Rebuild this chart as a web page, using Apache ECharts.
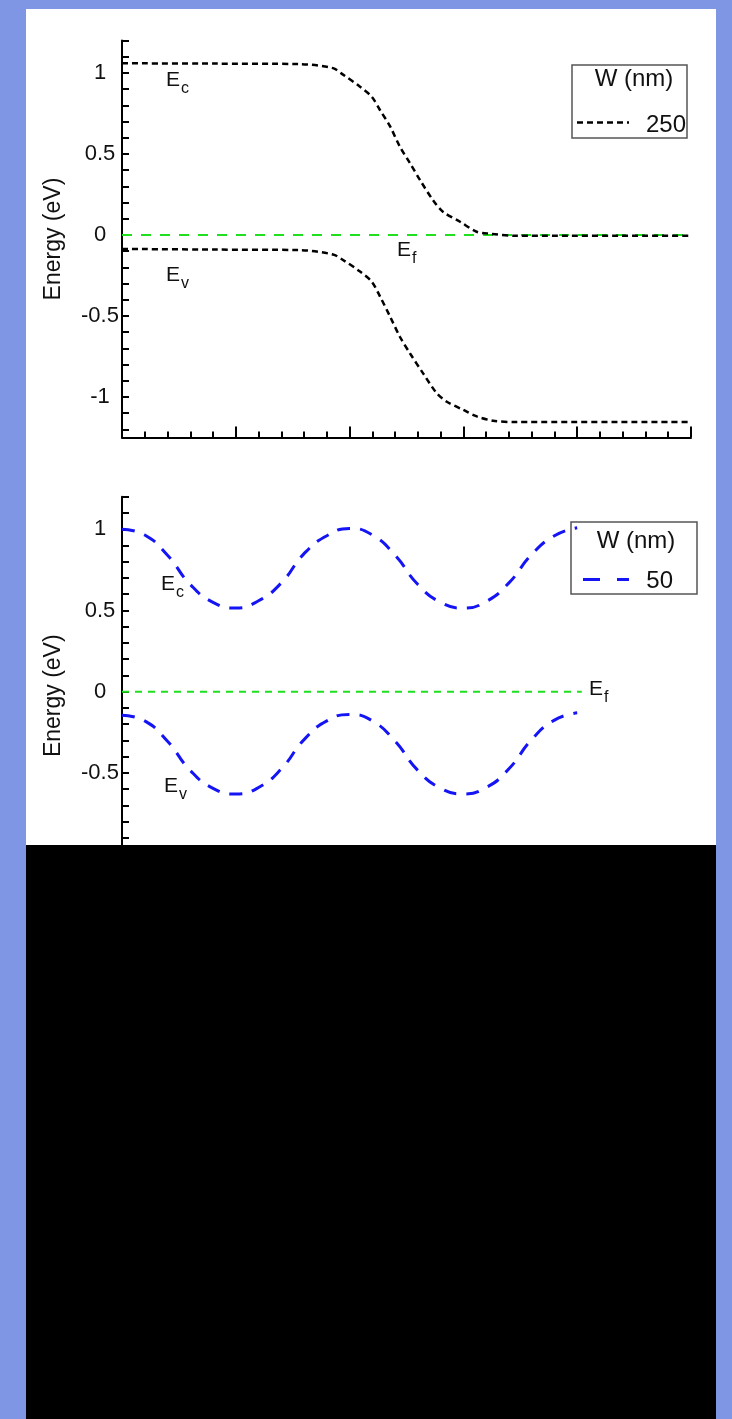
<!DOCTYPE html>
<html>
<head>
<meta charset="utf-8">
<title>Band diagram</title>
<script src="https://cdn.jsdelivr.net/npm/echarts@6/dist/echarts.min.js"></script>
<style>
  html, body { margin: 0; padding: 0; background: #7e96e3; }
  #chart { width: 732px; height: 1419px; }
</style>
</head>
<body>
<div id="chart"></div>
<script>
// ---- Upper panel: W = 250 nm ----
const xTop  = [0, 40, 78, 92.7, 97.1, 104.6, 109.7, 113.4, 117.8, 122.1, 126.5, 130.9, 136.6, 141, 148.5, 155.8, 160.2, 173.4, 250];
const ecTop = [1.06, 1.058, 1.055, 1.03, 0.99, 0.915, 0.854, 0.77, 0.67, 0.545, 0.444, 0.34, 0.216, 0.144, 0.082, 0.02, 0.01, -0.005, -0.005];
const xTopV = [0, 40, 78, 92.7, 97.1, 104.6, 109.7, 113.4, 117.8, 122.1, 126.5, 132.3, 138.3, 142.7, 150, 155.9, 163, 173.4, 250];
const evTop = [-0.086, -0.09, -0.093, -0.12, -0.154, -0.226, -0.288, -0.38, -0.504, -0.628, -0.73, -0.854, -0.977, -1.029, -1.08, -1.12, -1.146, -1.155, -1.155];
const efTopX = [0, 250];
const efTop  = [0, 0];

// ---- Lower panel: W = 50 nm ----
const xBottom  = [0, 10, 20, 30, 40, 50, 60, 70, 80, 90, 100, 110, 120, 130, 140, 150, 160, 170, 180, 190, 200];
const ecBottom = [1.0, 0.965, 0.84, 0.66, 0.55, 0.515, 0.56, 0.67, 0.85, 0.96, 1.005, 0.965, 0.84, 0.66, 0.55, 0.515, 0.555, 0.67, 0.845, 0.96, 1.01];
const evBottom = [-0.145, -0.18, -0.305, -0.485, -0.595, -0.63, -0.59, -0.475, -0.295, -0.18, -0.14, -0.18, -0.305, -0.485, -0.595, -0.63, -0.59, -0.475, -0.295, -0.175, -0.13];
const efBottomX = [0, 202];
const efBottom  = [0, 0];

// ---- Axis ticks and legend text ----
const yTickValues  = [-1.2, -1.1, -1.0, -0.9, -0.8, -0.7, -0.6, -0.5, -0.4, -0.3, -0.2, -0.1, 0, 0.1, 0.2, 0.3, 0.4, 0.5, 0.6, 0.7, 0.8, 0.9, 1.0, 1.1, 1.2];
const yLabelValues = [-1, -0.5, 0, 0.5, 1];
const legendTitle = 'W (nm)';
const legendTop = '250';
const legendBottom = '50';

const FONT = '"Liberation Sans", Arial, sans-serif';
const pair = (xs, ys) => xs.map((x, i) => [x, ys[i]]);

function xAxisCfg(gridIndex) {
  return {
    gridIndex, type: 'value', min: 0, max: 250, interval: 50,
    axisLine: { onZero: false, lineStyle: { color: '#000', width: 2 } },
    axisTick: { inside: true, length: 11, lineStyle: { color: '#000', width: 2 } },
    minorTick: { show: true, splitNumber: 5, length: 6, lineStyle: { color: '#000', width: 2 } },
    axisLabel: { show: false },
    splitLine: { show: false }
  };
}
function yAxisCfg(gridIndex) {
  return {
    gridIndex, type: 'value', min: -1.25, max: 1.2,
    name: 'Energy (eV)', nameLocation: 'middle', nameGap: 57,
    nameTextStyle: { fontFamily: FONT, fontSize: 23, color: '#111' },
    axisLine: { lineStyle: { color: '#000', width: 2 } },
    axisTick: { inside: true, length: 7, customValues: yTickValues, lineStyle: { color: '#000', width: 2 } },
    axisLabel: {
      customValues: yLabelValues, margin: 22, align: 'center',
      fontFamily: FONT, fontSize: 22, color: '#111',
      formatter: v => String(v)
    },
    splitLine: { show: false }
  };
}

function lineSeries(idx, data, color, width, dash, smooth) {
  return {
    type: 'line', xAxisIndex: idx, yAxisIndex: idx, data, symbol: 'none',
    smooth: smooth, silent: true, animation: false,
    lineStyle: { color, width, type: dash }
  };
}

function txt(x, y, s, size, align) {
  return {
    type: 'text', z: 50,
    style: {
      x, y, text: s, font: size + 'px ' + FONT, fill: '#111',
      align: align || 'left', verticalAlign: 'middle',
      textAlign: align || 'left', textVerticalAlign: 'middle'
    }
  };
}
// band label "E" with a subscript letter
function sub(x, y, main, s) {
  return [txt(x, y, main, 21), txt(x + 15, y + 9, s, 16)];
}

const chart = echarts.init(document.getElementById('chart'), null, { renderer: 'canvas' });
chart.setOption({
  backgroundColor: '#7e96e3',
  animation: false,
  grid: [
    { left: 122, top: 40.6, width: 569, height: 396.9 },
    { left: 122, top: 496.8, width: 569, height: 397.9 }
  ],
  xAxis: [xAxisCfg(0), xAxisCfg(1)],
  yAxis: [yAxisCfg(0), yAxisCfg(1)],
  series: [
    lineSeries(0, pair(efTopX, efTop), '#1fe01f', 2, [10, 9], false),
    lineSeries(0, pair(xTop, ecTop), '#000', 2.5, [6, 4], 0.3),
    lineSeries(0, pair(xTopV, evTop), '#000', 2.5, [6, 4], 0.3),
    lineSeries(1, pair(efBottomX, efBottom), '#1fe01f', 2, [7, 6], false),
    lineSeries(1, pair(xBottom, ecBottom), '#1414f5', 3, [13, 10], true),
    lineSeries(1, pair(xBottom, evBottom), '#1414f5', 3, [13, 10], true)
  ],
  graphic: [
    // white panel and the black block over its lower part
    { type: 'rect', z: -100, shape: { x: 26, y: 9, width: 690, height: 836 }, style: { fill: '#fff' } },
    { type: 'rect', z: 100, shape: { x: 26, y: 845, width: 690, height: 574 }, style: { fill: '#000' } },

    // band labels, upper panel
    ...sub(166, 80, 'E', 'c'),
    ...sub(166, 275, 'E', 'v'),
    ...sub(397, 250, 'E', 'f'),
    // band labels, lower panel
    ...sub(161, 584, 'E', 'c'),
    ...sub(164, 786, 'E', 'v'),
    ...sub(589, 689, 'E', 'f'),

    // legend, upper panel
    { type: 'rect', z: 40, shape: { x: 572, y: 65, width: 115, height: 73 }, style: { fill: 'none', stroke: '#555', lineWidth: 1.5 } },
    txt(634, 79, legendTitle, 24, 'center'),
    { type: 'line', z: 40, shape: { x1: 577, y1: 122.5, x2: 629, y2: 122.5 }, style: { stroke: '#000', lineWidth: 2.5, lineDash: [6, 4] } },
    txt(686, 125, legendTop, 24, 'right'),

    // legend, lower panel
    { type: 'rect', z: 40, shape: { x: 571, y: 522, width: 126, height: 72 }, style: { fill: 'none', stroke: '#555', lineWidth: 1.5 } },
    txt(636, 541, legendTitle, 24, 'center'),
    { type: 'line', z: 40, shape: { x1: 583, y1: 579.5, x2: 629, y2: 579.5 }, style: { stroke: '#1414f5', lineWidth: 3, lineDash: [17, 17] } },
    txt(673, 581, legendBottom, 24, 'right')
  ]
});
</script>
</body>
</html>
